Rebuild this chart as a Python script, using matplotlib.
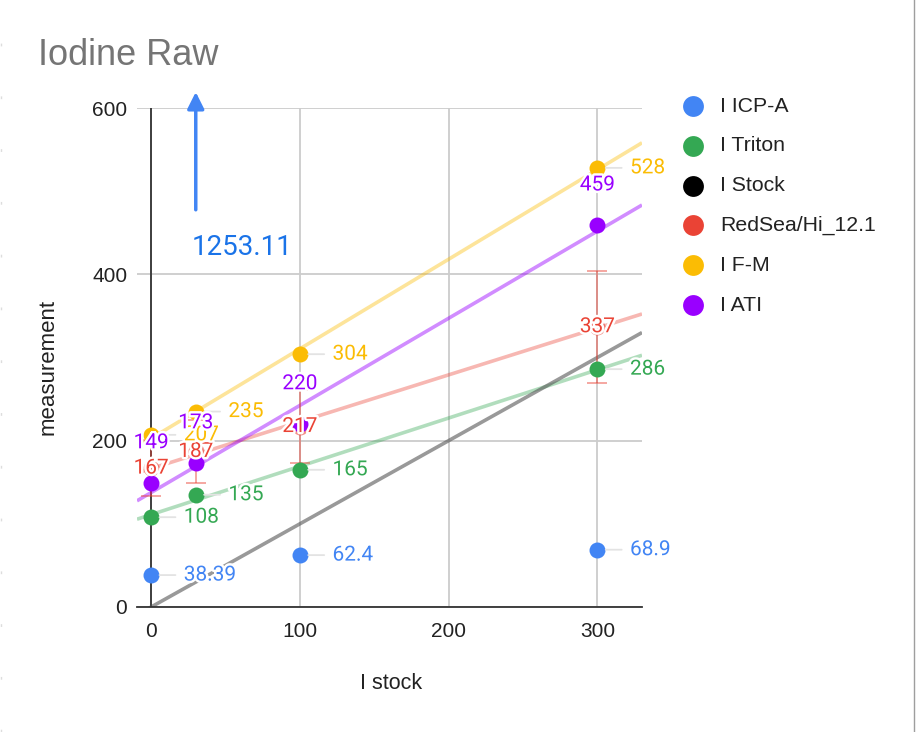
import matplotlib
matplotlib.use('Agg')
import matplotlib.pyplot as plt
import matplotlib.patheffects as pe
from matplotlib.lines import Line2D
import numpy as np

# data
stock_x = [0, 30, 100, 300]
icp_a = [38.39, 1253.11, 62.4, 68.9]
triton = [108, 135, 165, 286]
stock = [0, 30, 100, 300]
redsea = [167, 187, 217, 337]
f_m = [207, 235, 304, 528]
ati = [149, 173, 220, 459]
ERR_PCT = 20

names = ['I ICP-A', 'I Triton', 'I Stock', 'RedSea/Hi_12.1', 'I F-M', 'I ATI']
colors = ['#4285F4', '#34A853', '#000000', '#EA4335', '#FBBC04', '#9900FF']

W, H = 916, 732
fig = plt.figure(figsize=(W / 100, H / 100), dpi=100)
ax = fig.add_axes([137 / W, 1 - 607 / H, 505 / W, 499 / H])

XMIN, XMAX = -9.5, 330
YMIN, YMAX = 0, 600
ax.set_xlim(XMIN, XMAX)
ax.set_ylim(YMIN, YMAX)
ax.set_xticks([0, 100, 200, 300])
ax.set_yticks([0, 200, 400, 600])
ax.grid(True, color='#cccccc', lw=1.3, zorder=0)
ax.set_axisbelow(True)
for s in ['left', 'right', 'top']:
    ax.spines[s].set_visible(False)
ax.spines['bottom'].set_color('#333333')
ax.spines['bottom'].set_linewidth(1.3)
ax.axvline(0, color='#333333', lw=1.3, zorder=1)
ax.tick_params(length=0, labelsize=15, labelcolor='#222222')
ax.tick_params(axis='y', pad=7)
ax.tick_params(axis='x', pad=11)
for t in ax.get_xticklabels() + ax.get_yticklabels():
    t.set_fontfamily('Liberation Sans')

ax.set_xlabel('I stock', fontsize=15.5, family='Liberation Sans', color='#222222')
ax.set_ylabel('measurement', fontsize=16, family='Liberation Sans', color='#222222')
ax.xaxis.set_label_coords((391 - 137) / 505, -(673 - 607) / 499)
ax.yaxis.set_label_coords(-(137 - 59) / 505, (607 - 367) / 499)

# linear trendlines
xx = np.array([XMIN, XMAX])
def trend(ys, color, alpha):
    k, b = np.polyfit(stock_x, ys, 1)
    ax.plot(xx, k * xx + b, color=color, lw=2.6, alpha=alpha, zorder=2,
            solid_capstyle='butt')

trend(triton, colors[1], 0.38)
trend(stock, '#555555', 0.6)
trend(redsea, colors[3], 0.38)
trend(f_m, colors[4], 0.4)
trend(ati, colors[5], 0.45)

# error bars on RedSea
ax.errorbar(stock_x, redsea, yerr=np.array(redsea) * ERR_PCT / 100, fmt='none',
            ecolor=colors[3], alpha=0.5, elinewidth=1.3, capsize=7.5, capthick=1.3,
            zorder=3)

ms = 11.5
# off-scale ICP-A point is shown as an arrow
icp_in = [(x, y) for x, y in zip(stock_x, icp_a) if y <= YMAX]
icp_out = [(x, y) for x, y in zip(stock_x, icp_a) if y > YMAX]
ax.plot([p[0] for p in icp_in], [p[1] for p in icp_in], 'o', color=colors[0], ms=ms,
        mec='none', zorder=4)
ax.plot(stock_x, triton, 'o', color=colors[1], ms=ms, mec='none', zorder=4)
ax.plot(stock_x, redsea, 'o', color=colors[3], ms=ms, mec='none', alpha=0.6, zorder=4)
ax.plot(stock_x, f_m, 'o', color=colors[4], ms=ms, mec='none', zorder=4)
ax.plot(stock_x, ati, 'o', color=colors[5], ms=ms, mec='none', zorder=4)

halo = [pe.withStroke(linewidth=3.5, foreground='white')]
def fmt(v):
    return ('%g' % v)

LBL = 15
def label_right(xs, ys, color):
    for x, y in zip(xs, ys):
        ax.annotate(fmt(y), (x, y), xytext=(23.5, 0), textcoords='offset points',
                    ha='left', va='center', fontsize=LBL, family='Roboto', color=color,
                    path_effects=halo, zorder=6,
                    arrowprops=dict(arrowstyle='-', color='#e3e3e3', lw=1.3,
                                    shrinkA=4, shrinkB=6, relpos=(0, 0.5)))

def label_at(xs, ys, color, dy):
    for x, y in zip(xs, ys):
        ax.annotate(fmt(y), (x, y), xytext=(0, dy), textcoords='offset points',
                    ha='center', va='center', fontsize=LBL, family='Roboto',
                    color=color, path_effects=halo, zorder=6)

label_right([p[0] for p in icp_in], [p[1] for p in icp_in], colors[0])
label_right(stock_x, triton, colors[1])
label_at(stock_x, redsea, colors[3], 0)
label_right(stock_x, f_m, colors[4])
label_at(stock_x, ati, colors[5], 29)

for x, y in icp_out:
    ax.annotate('', xy=(x, 1.032), xycoords=('data', 'axes fraction'),
                xytext=(x, 0.796), textcoords=('data', 'axes fraction'),
                annotation_clip=False,
                arrowprops=dict(arrowstyle='-|>,head_length=0.5,head_width=0.25',
                                mutation_scale=20, color=colors[0], lw=2.5,
                                shrinkA=0, shrinkB=0))
    ax.annotate(fmt(y), (x, 0.7214), xycoords=('data', 'axes fraction'),
                xytext=(-3, 0), textcoords='offset points', ha='left', va='center',
                fontsize=20, family='Roboto', color='#1a73e8', annotation_clip=False)

# title
fig.text(38 / W, 1 - 65 / H, 'Iodine Raw', fontsize=26, family='Liberation Sans',
         color='#757575', va='baseline')

# legend
for i, (name, c) in enumerate(zip(names, colors)):
    yy = 1 - (106 + 39.8 * i) / H
    fig.add_artist(Line2D([693 / W], [yy], marker='o', ms=15, color=c, mec='none'))
    fig.text(720 / W, yy, name, fontsize=15.3, family='Liberation Sans', color='#222222',
             va='center')

# chart frame edges
fig.add_artist(Line2D([914 / W, 914 / W], [0, 1], color='#9e9e9e', lw=1))
fig.add_artist(Line2D([1 / W, 1 / W], [0, 1], color='#dddddd', lw=1, ls=(0, (2, 36))))

fig.savefig('out.png', dpi=100)
